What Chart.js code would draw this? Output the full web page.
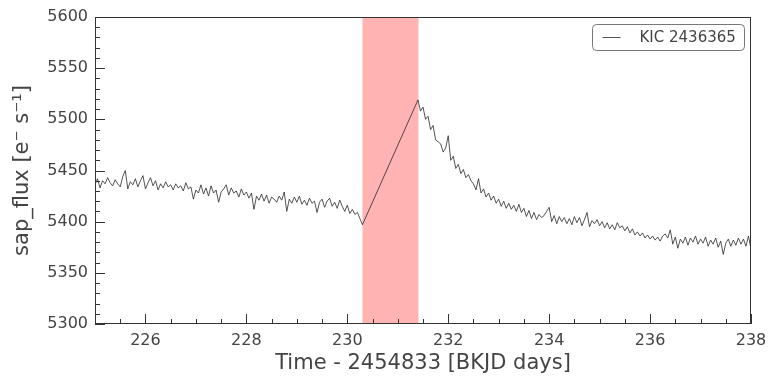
<!DOCTYPE html>
<html>
<head>
<meta charset="utf-8">
<script src="https://cdn.jsdelivr.net/npm/chart.js@4/dist/chart.umd.min.js"></script>
<style>
  html, body { margin: 0; padding: 0; background: #fff; }
  #c { display: block; }
</style>
</head>
<body>
<canvas id="c" width="777" height="383"></canvas>
<script>
// ---- data ----
const seriesLabel = "KIC 2436365";
const xTitle = "Time - 2454833 [BKJD days]";
const yTitle = "sap_flux [e\u207B s\u207B\u00B9]";

const xMin = 225, xMax = 238, xStep = 2, xMinorStep = 0.5;
const yMin = 5300, yMax = 5600, yStep = 50, yMinorStep = 10;

const gapStart = 230.30;
const gapEnd = 231.41;

const timeA = [
  225.00,225.05,225.10,225.15,225.20,225.25,225.30,225.35,225.40,225.45,
  225.50,225.55,225.60,225.65,225.70,225.75,225.80,225.85,225.90,225.95,
  226.00,226.05,226.10,226.15,226.20,226.25,226.30,226.35,226.40,226.45,
  226.50,226.55,226.60,226.65,226.70,226.75,226.80,226.85,226.90,226.95,
  227.00,227.05,227.10,227.15,227.20,227.25,227.30,227.35,227.40,227.45,
  227.50,227.55,227.60,227.65,227.70,227.75,227.80,227.85,227.90,227.95,
  228.00,228.05,228.10,228.15,228.20,228.25,228.30,228.35,228.40,228.45,
  228.50,228.55,228.60,228.65,228.70,228.75,228.80,228.85,228.90,228.95,
  229.00,229.05,229.10,229.15,229.20,229.25,229.30,229.35,229.40,229.45,
  229.50,229.55,229.60,229.65,229.70,229.75,229.80,229.85,229.90,229.95,
  230.00,230.05,230.10,230.15,230.20,230.25,230.30
];
const fluxA = [
  5436,5442,5433,5440,5437,5443,5438,5435,5441,5437,
  5434,5444,5450,5432,5439,5436,5442,5434,5440,5445,
  5432,5438,5443,5435,5440,5431,5437,5433,5439,5434,
  5436,5431,5437,5433,5435,5430,5438,5432,5434,5422,
  5431,5428,5436,5427,5433,5425,5435,5428,5431,5419,
  5429,5432,5436,5426,5433,5428,5430,5424,5432,5426,
  5429,5423,5428,5412,5425,5421,5427,5420,5426,5418,
  5424,5422,5419,5425,5421,5429,5410,5422,5418,5424,
  5419,5425,5417,5421,5416,5423,5418,5420,5409,5419,
  5422,5414,5420,5423,5415,5419,5413,5421,5415,5410,
  5416,5408,5412,5407,5409,5403,5397
];
const timeB = [
  231.40,231.45,231.50,231.55,231.60,231.65,231.70,231.75,231.80,231.85,
  231.90,231.95,232.00,232.05,232.10,232.15,232.20,232.25,232.30,232.35,
  232.40,232.45,232.50,232.55,232.60,232.65,232.70,232.75,232.80,232.85,
  232.90,232.95,233.00,233.05,233.10,233.15,233.20,233.25,233.30,233.35,
  233.40,233.45,233.50,233.55,233.60,233.65,233.70,233.75,233.80,233.85,
  233.90,233.95,234.00,234.05,234.10,234.15,234.20,234.25,234.30,234.35,
  234.40,234.45,234.50,234.55,234.60,234.65,234.70,234.75,234.80,234.85,
  234.90,234.95,235.00,235.05,235.10,235.15,235.20,235.25,235.30,235.35,
  235.40,235.45,235.50,235.55,235.60,235.65,235.70,235.75,235.80,235.85,
  235.90,235.95,236.00,236.05,236.10,236.15,236.20,236.25,236.30,236.35,
  236.40,236.45,236.50,236.55,236.60,236.65,236.70,236.75,236.80,236.85,
  236.90,236.95,237.00,237.05,237.10,237.15,237.20,237.25,237.30,237.35,
  237.40,237.45,237.50,237.55,237.60,237.65,237.70,237.75,237.80,237.85,
  237.90,237.95,238.00
];
const fluxB = [
  5519,5508,5512,5500,5503,5490,5494,5480,5478,5476,
  5468,5472,5484,5460,5464,5452,5456,5447,5451,5443,
  5446,5440,5437,5431,5442,5428,5432,5424,5428,5421,
  5425,5418,5422,5415,5420,5413,5418,5412,5416,5410,
  5417,5409,5413,5405,5411,5403,5409,5402,5407,5404,
  5406,5410,5414,5400,5406,5398,5405,5400,5404,5398,
  5403,5397,5405,5399,5404,5396,5402,5409,5395,5401,
  5398,5402,5396,5400,5394,5399,5393,5397,5392,5399,
  5394,5396,5391,5395,5389,5393,5387,5390,5386,5389,
  5384,5387,5383,5386,5382,5385,5381,5386,5388,5384,
  5392,5378,5385,5374,5383,5379,5385,5377,5384,5380,
  5386,5378,5383,5379,5385,5376,5382,5378,5384,5375,
  5381,5368,5379,5383,5376,5382,5377,5384,5378,5383,
  5376,5386,5373
];

// ---- build points ----
const times = timeA.concat(timeB);
const fluxes = fluxA.concat(fluxB);
const points = times.map((t, i) => ({ x: t, y: fluxes[i] }));

const TEXT = '#444444';
const AXIS = '#333333';
const LINE = '#2a2a2a';
const FONT = "'DejaVu Sans', sans-serif";

const decorPlugin = {
  id: 'decor',
  beforeDatasetsDraw(chart) {
    const { ctx, chartArea, scales } = chart;
    const x0 = scales.x.getPixelForValue(gapStart);
    const x1 = scales.x.getPixelForValue(gapEnd);
    ctx.save();
    ctx.fillStyle = '#ffb3b3';
    ctx.fillRect(x0, chartArea.top, x1 - x0, chartArea.bottom - chartArea.top);
    ctx.restore();
  },
  afterDraw(chart) {
    const { ctx, chartArea: a, scales } = chart;
    const xs = scales.x, ys = scales.y;
    ctx.save();
    ctx.strokeStyle = AXIS;
    ctx.lineWidth = 1;
    // frame
    ctx.strokeRect(Math.round(a.left) + 0.5, Math.round(a.top) + 0.5,
      Math.round(a.right - a.left) - 1, Math.round(a.bottom - a.top) - 1);
    // x ticks (inward, bottom)
    ctx.beginPath();
    for (let v = xMin; v <= xMax + 1e-9; v += xMinorStep) {
      const px = Math.round(xs.getPixelForValue(v)) + 0.5;
      const isMajor = Math.abs(v / xStep - Math.round(v / xStep)) < 1e-6;
      const len = isMajor ? 10 : 5;
      ctx.moveTo(px, a.bottom);
      ctx.lineTo(px, a.bottom - len);
    }
    // y ticks (inward, left)
    for (let v = yMin; v <= yMax + 1e-9; v += yMinorStep) {
      const py = Math.round(ys.getPixelForValue(v)) + 0.5;
      const isMajor = Math.abs(v / yStep - Math.round(v / yStep)) < 1e-6;
      const len = isMajor ? 10 : 5;
      ctx.moveTo(a.left, py);
      ctx.lineTo(a.left + len, py);
    }
    ctx.stroke();

    // legend
    const lw = 152, lh = 26;
    const lx = Math.round(a.right) - 7 - lw + 0.5;
    const ly = Math.round(a.top) + 7 + 0.5;
    ctx.fillStyle = 'rgba(255,255,255,0.9)';
    ctx.strokeStyle = '#777777';
    ctx.lineWidth = 1;
    ctx.beginPath();
    ctx.roundRect(lx, ly, lw, lh, 4);
    ctx.fill();
    ctx.stroke();
    ctx.strokeStyle = LINE;
    ctx.lineWidth = 0.8;
    ctx.beginPath();
    ctx.moveTo(lx + 10, ly + lh / 2);
    ctx.lineTo(lx + 28, ly + lh / 2);
    ctx.stroke();
    ctx.fillStyle = TEXT;
    ctx.font = "15px " + FONT;
    ctx.textBaseline = 'middle';
    ctx.textAlign = 'left';
    ctx.fillText(seriesLabel, lx + 47, ly + lh / 2 + 1);
    ctx.restore();
  }
};

new Chart(document.getElementById('c'), {
  type: 'line',
  data: {
    datasets: [{
      label: seriesLabel,
      data: points,
      borderColor: LINE,
      borderWidth: 0.8,
      pointRadius: 0,
      tension: 0,
      fill: false
    }]
  },
  options: {
    responsive: false,
    animation: false,
    devicePixelRatio: 1,
    parsing: false,
    normalized: true,
    layout: { padding: { top: 17, right: 26, left: 0, bottom: 0 } },
    plugins: { legend: { display: false }, tooltip: { enabled: false } },
    scales: {
      x: {
        type: 'linear',
        min: xMin, max: xMax,
        grid: { display: false, drawTicks: false },
        border: { display: false },
        ticks: {
          stepSize: xStep, includeBounds: false, padding: 7,
          color: TEXT, font: { family: FONT, size: 16 }, maxRotation: 0,
          callback: (v) => String(v)
        },
        title: {
          display: true, text: xTitle, color: TEXT,
          font: { family: FONT, size: 21 }, padding: { top: 0, bottom: 7 }
        },
        afterFit(scale) { scale.height = 59; }
      },
      y: {
        type: 'linear',
        min: yMin, max: yMax,
        grid: { display: false, drawTicks: false },
        border: { display: false },
        ticks: {
          stepSize: yStep, padding: 7,
          color: TEXT, font: { family: FONT, size: 16 },
          callback: (v) => String(v)
        },
        title: {
          display: true, text: yTitle, color: TEXT,
          font: { family: FONT, size: 21 }, padding: { top: 10, bottom: 0 }
        },
        afterFit(scale) { scale.width = 95; }
      }
    }
  },
  plugins: [decorPlugin]
});
</script>
</body>
</html>
